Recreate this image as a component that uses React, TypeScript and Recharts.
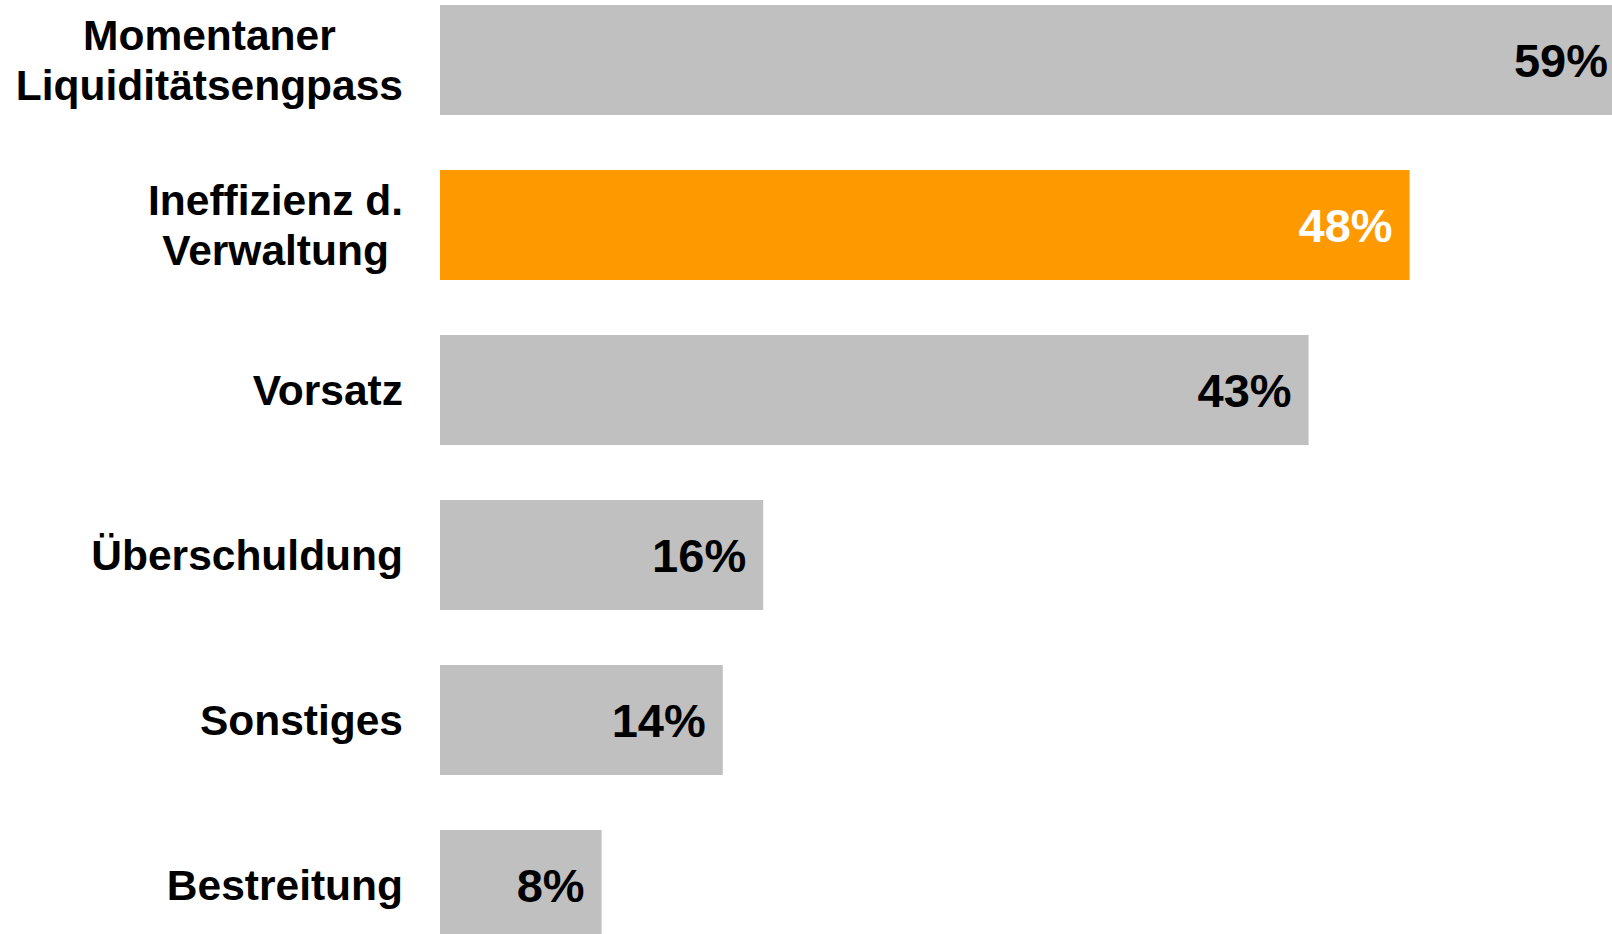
import React from "react";
import { BarChart, Bar, XAxis, YAxis, Cell, LabelList } from "recharts";

const categories: string[] = [
  "Momentaner\nLiquiditätsengpass",
  "Ineffizienz d.\nVerwaltung",
  "Vorsatz",
  "Überschuldung",
  "Sonstiges",
  "Bestreitung",
];
const values: number[] = [59, 48, 43, 16, 14, 8];
const highlighted: boolean[] = [false, true, false, false, false, false];

const data = categories.map((c, i) => ({ name: c, value: values[i], hl: highlighted[i] }));

const GRAY = "#C0C0C0";
const ORANGE = "#FF9900";
const FONT = "'Liberation Sans', Arial, Helvetica, sans-serif";
const TICK_SIZE = 42.5;
const VALUE_SIZE = 47;
const LINE_H = 50;
const LABEL_RIGHT = 403;
const VIEW_W = 1612;

let ctx: CanvasRenderingContext2D | null = null;
function measure(text: string): number {
  if (typeof document === "undefined") return text.length * TICK_SIZE * 0.6;
  if (!ctx) {
    const c = document.createElement("canvas");
    ctx = c.getContext("2d");
  }
  if (!ctx) return text.length * TICK_SIZE * 0.6;
  ctx.font = `bold ${TICK_SIZE}px "Liberation Sans"`;
  return ctx.measureText(text).width;
}

const CategoryTick = (props: any) => {
  const { y, payload } = props;
  const lines: string[] = String(payload.value).split("\n");
  const blockW = Math.max(...lines.map(measure));
  const cx = LABEL_RIGHT - blockW / 2;
  const n = lines.length;
  return (
    <g>
      {lines.map((ln, i) => (
        <text
          key={i}
          x={cx}
          y={y + (i - (n - 1) / 2) * LINE_H + TICK_SIZE * 0.716 / 2}
          textAnchor="middle"
          fontFamily={FONT}
          fontWeight="bold"
          fontSize={TICK_SIZE}
          fill="#000"
        >
          {ln}
        </text>
      ))}
    </g>
  );
};

const ValueLabel = (props: any) => {
  const { x, y, width, height, value, index } = props;
  const right = Math.min(x + width - 17, VIEW_W - 4);
  return (
    <text
      x={right}
      y={y + height / 2 + VALUE_SIZE * 0.716 / 2}
      textAnchor="end"
      fontFamily={FONT}
      fontWeight="bold"
      fontSize={VALUE_SIZE}
      fill={highlighted[index] ? "#FFFFFF" : "#000000"}
    >
      {`${value}%`}
    </text>
  );
};

export default function App() {
  return (
    <div
      style={{
        position: "absolute",
        left: 0,
        top: 0,
        width: VIEW_W,
        height: 934,
        overflow: "hidden",
        background: "#fff",
      }}
    >
      <div style={{ position: "absolute", left: 0, top: -23 }}>
        <BarChart
          width={1652}
          height={990}
          data={data}
          layout="vertical"
          margin={{ top: 0, right: 0, bottom: 0, left: 0 }}
        >
          <XAxis type="number" domain={[0, 60]} hide />
          <YAxis
            type="category"
            dataKey="name"
            width={440}
            axisLine={false}
            tickLine={false}
            tick={<CategoryTick />}
            interval={0}
          />
          <Bar dataKey="value" barSize={110} isAnimationActive={false}>
            {data.map((d, i) => (
              <Cell key={i} fill={d.hl ? ORANGE : GRAY} />
            ))}
            <LabelList dataKey="value" content={<ValueLabel />} />
          </Bar>
        </BarChart>
      </div>
    </div>
  );
}
